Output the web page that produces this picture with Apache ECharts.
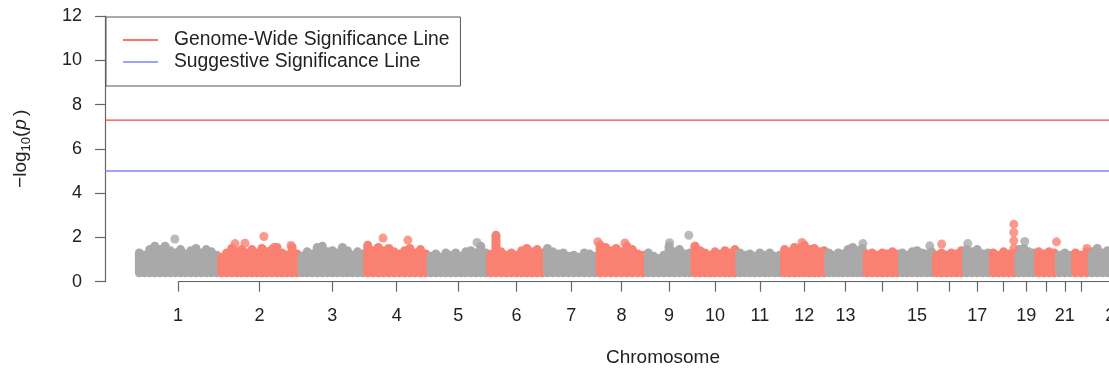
<!DOCTYPE html>
<html>
<head>
<meta charset="utf-8">
<script src="https://cdn.jsdelivr.net/npm/echarts@6/dist/echarts.min.js"></script>
<style>
  html, body { margin: 0; padding: 0; background: #fff; }
  #chart { width: 1109px; height: 374px; }
</style>
</head>
<body>
<div id="chart"></div>
<script>
// Chromosomes and their approximate lengths (Mb)
const chromosomes = ['1','2','3','4','5','6','7','8','9','10','11','12','13','14','15','16','17','18','19','20','21','22','23'];
const chromLengths = [249,243,198,191,181,171,159,146,141,136,135,134,115,107,103,90,81,78,59,63,48,51,155];
// labels that are printed under the ticks (crowded ones are left out)
const shownLabels = ['1','2','3','4','5','6','7','8','9','10','11','12','13','15','17','19','21','23'];
const yTicks = [0, 2, 4, 6, 8, 10, 12];

const genomeWideLine = 7.3;   // -log10(5e-8)
const suggestiveLine = 5;     // -log10(1e-5)

// lowest -log10(p) of the dense SNP cloud
const cloudFloor = 0.4;

// upper edge of the SNP cloud, sampled evenly along each chromosome
const cloudTops = [
  [1.3,1.2,1.45,1.6,1.45,1.6,1.4,1.3,1.45,1.25,1.4,1.5,1.3,1.45,1.35,1.2],
  [1.1,1.3,1.5,1.35,1.45,1.3,1.45,1.3,1.5,1.35,1.45,1.55,1.3,1.2,1.55,1.25],
  [1.15,1.35,1.25,1.55,1.6,1.35,1.4,1.3,1.55,1.4,1.2,1.35,1.25],
  [1.65,1.4,1.55,1.4,1.5,1.35,1.25,1.4,1.5,1.3,1.45,1.25],
  [1.15,1.25,1.1,1.3,1.2,1.3,1.15,1.35,1.4,1.3,1.6,1.3],
  [1.24,2.1,1.35,1.2,1.3,1.2,1.4,1.5,1.35,1.45,1.3],
  [1.5,1.35,1.25,1.3,1.15,1.2,1.1,1.3,1.25,1.15],
  [1.65,1.55,1.4,1.5,1.35,1.6,1.45,1.25,1.2],
  [1.3,1.15,1.05,1.2,1.6,1.35,1.45,1.25,1.3],
  [1.6,1.4,1.3,1.2,1.35,1.25,1.4,1.3,1.45],
  [1.3,1.2,1.25,1.15,1.3,1.2,1.3,1.15,1.2],
  [1.45,1.35,1.55,1.5,1.65,1.45,1.5,1.35,1.4],
  [1.3,1.2,1.3,1.25,1.45,1.55,1.4,1.5],
  [1.25,1.3,1.2,1.3,1.25,1.35,1.25],
  [1.3,1.2,1.35,1.4,1.3,1.25,1.35],
  [1.2,1.3,1.2,1.3,1.25,1.4],
  [1.45,1.35,1.45,1.25,1.3],
  [1.3,1.2,1.35,1.25,1.3],
  [1.45,1.5,1.35,1.3],
  [1.35,1.25,1.35,1.3],
  [1.2,1.3,1.2],
  [1.3,1.2,1.35],
  [1.35,1.5,1.3,1.4,1.25,1.35,1.45,1.3,1.35,1.3]
];

// individual SNPs standing above the cloud: [chromosome, position (Mb), -log10(p)]
const hits = [
  ['1', 115, 1.93],
  ['2', 48, 1.72], ['2', 78, 1.74], ['2', 135, 2.04], ['2', 166, 1.56], ['2', 217, 1.64],
  ['4', 54, 1.97], ['4', 129, 1.88],
  ['5', 147, 1.77],
  ['8', 1, 1.8], ['8', 83, 1.75],
  ['9', 72, 1.76], ['9', 130, 2.1],
  ['10', 8, 1.6],
  ['12', 60, 1.77],
  ['13', 110, 1.72],
  ['15', 90, 1.62],
  ['16', 23, 1.7],
  ['17', 12, 1.72],
  ['18', 70, 2.6], ['18', 70, 2.22], ['18', 70, 1.85], ['18', 70, 1.5],
  ['19', 25, 1.82],
  ['20', 62, 1.8],
  ['22', 43, 1.5]
];

const chromColors = ['#A9A9A9', '#FA8072'];
const axisColor = '#666';
const textColor = '#222';
const FONT = 'Liberation Sans, Arial, Helvetica, sans-serif';

// cumulative genome coordinates
const starts = [];
let acc = 0;
chromLengths.forEach(len => { starts.push(acc); acc += len; });
const centers = chromLengths.map((len, i) => starts[i] + len / 2);
const X_MIN = -96, X_MAX = 3276;

const cloudData = [];
cloudTops.forEach((tops, c) => {
  const n = tops.length;
  tops.forEach((top, i) => {
    const x = starts[c] + (i + 0.5) / n * chromLengths[c];
    cloudData.push([x, top, cloudFloor, c]);
  });
});

const hitData = hits.map(([chr, pos, val]) => {
  const c = chromosomes.indexOf(chr);
  return { value: [starts[c] + pos, val], itemStyle: { color: chromColors[c % 2] } };
});

const labelValues = shownLabels.map(name => centers[chromosomes.indexOf(name)]);

const chart = echarts.init(document.getElementById('chart'), null, { renderer: 'canvas' });

chart.setOption({
  animation: false,
  backgroundColor: '#fff',
  grid: { left: 105, right: -112, top: 16, bottom: 92.3, containLabel: false, outerBoundsMode: 'none' },
  legend: {
    data: ['Genome-Wide Significance Line', 'Suggestive Significance Line'],
    orient: 'vertical',
    left: 106,
    top: 17,
    padding: [12, 11, 13, 17],
    itemGap: 0,
    itemWidth: 35,
    itemHeight: 1.5,
    icon: 'rect',
    borderColor: '#555',
    borderWidth: 1,
    borderRadius: 0,
    backgroundColor: '#fff',
    textStyle: { fontFamily: FONT, fontSize: 19.3, color: textColor, lineHeight: 22, padding: [0, 0, 0, 11] }
  },
  xAxis: {
    type: 'value',
    min: X_MIN,
    max: X_MAX,
    name: 'Chromosome',
    nameLocation: 'middle',
    nameGap: 67,
    nameTextStyle: { fontFamily: FONT, fontSize: 19, color: textColor },
    axisLine: { show: false },
    splitLine: { show: false },
    axisTick: {
      show: true,
      customValues: centers,
      length: 10,
      lineStyle: { color: axisColor, width: 1.2 }
    },
    axisLabel: {
      customValues: labelValues,
      margin: 25,
      fontFamily: FONT,
      fontSize: 18,
      color: textColor,
      formatter: v => {
        let best = 0;
        centers.forEach((c, i) => { if (Math.abs(c - v) < Math.abs(centers[best] - v)) best = i; });
        return chromosomes[best];
      }
    }
  },
  yAxis: {
    type: 'value',
    min: 0,
    max: 12,
    interval: 2,
    name: '{t|−log}{s|10}{t|(}{i|p}{t|)}',
    nameLocation: 'middle',
    nameRotate: 90,
    nameGap: 72,
    nameTextStyle: {
      fontFamily: FONT,
      fontSize: 19,
      color: textColor,
      rich: {
        t: { fontFamily: FONT, fontSize: 19, color: textColor, lineHeight: 24 },
        s: { fontFamily: FONT, fontSize: 13, color: textColor, lineHeight: 24, verticalAlign: 'bottom' },
        i: { fontFamily: FONT, fontSize: 19, color: textColor, fontStyle: 'italic', lineHeight: 24, padding: [0, 3, 0, 1] }
      }
    },
    axisLine: { show: true, onZero: false, lineStyle: { color: axisColor, width: 1.2 } },
    axisTick: { show: true, length: 10, lineStyle: { color: axisColor, width: 1.2 } },
    axisLabel: { margin: 23, fontFamily: FONT, fontSize: 18, color: textColor,
      formatter: v => (yTicks.indexOf(v) >= 0 ? String(v) : '') },
    splitLine: { show: false }
  },
  series: [
    {
      // SNP cloud: one rounded stroke per sampled column
      type: 'custom',
      silent: true,
      clip: true,
      data: cloudData,
      renderItem: (params, api) => {
        const x = api.value(0);
        const pTop = api.coord([x, api.value(1)]);
        const pLow = api.coord([x, api.value(2)]);
        return {
          type: 'line',
          shape: { x1: pLow[0], y1: pLow[1], x2: pTop[0], y2: pTop[1] },
          style: { stroke: chromColors[api.value(3) % 2], lineWidth: 9, lineCap: 'round' }
        };
      }
    },
    {
      type: 'scatter',
      silent: true,
      symbol: 'circle',
      symbolSize: 9,
      data: hitData
    },
    {
      // x-axis baseline running from the first to the last chromosome tick
      type: 'line',
      silent: true,
      symbol: 'none',
      data: [[centers[0], 0], [centers[centers.length - 1], 0]],
      lineStyle: { color: axisColor, width: 1.2 }
    },
    {
      name: 'Genome-Wide Significance Line',
      type: 'line',
      silent: true,
      symbol: 'none',
      color: '#FF4040',
      data: [[X_MIN, genomeWideLine], [X_MAX, genomeWideLine]],
      lineStyle: { color: '#FF4040', width: 1.3 }
    },
    {
      name: 'Suggestive Significance Line',
      type: 'line',
      silent: true,
      symbol: 'none',
      color: '#8080FF',
      data: [[X_MIN, suggestiveLine], [X_MAX, suggestiveLine]],
      lineStyle: { color: '#8080FF', width: 1.6 }
    }
  ]
});
</script>
</body>
</html>
